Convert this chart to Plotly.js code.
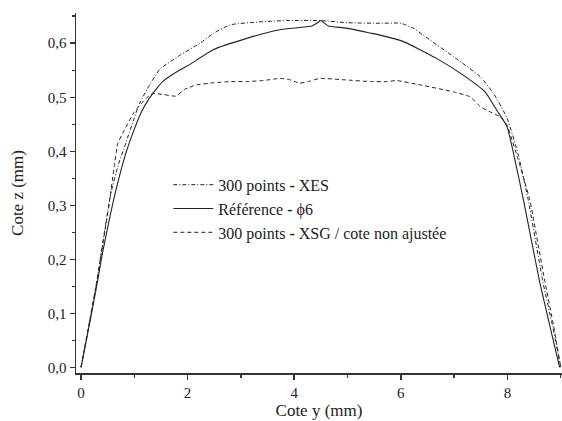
<!DOCTYPE html>
<html>
<head>
<meta charset="utf-8">
<script src="https://cdn.plot.ly/plotly-3.0.1.min.js"></script>
<style>html,body{margin:0;padding:0;background:#fff}#chart{width:562px;height:421px}</style>
</head>
<body>
<div id="chart"></div>
<script>
// Série "300 points - XES" (tiret-point)
const xesY = [0, 0.14, 0.28, 0.42, 0.56, 0.7, 0.84, 1.0, 1.1, 1.3, 1.48, 1.86, 2.23, 2.48, 2.8, 3.42, 3.86, 4.48, 5.0, 5.61, 6.0, 6.23, 6.42, 6.99, 7.49, 7.74, 7.99, 8.2, 8.39, 8.67, 8.85, 9.0];
const xesZ = [0, 0.072, 0.148, 0.238, 0.322, 0.375, 0.415, 0.462, 0.489, 0.525, 0.552, 0.578, 0.6, 0.618, 0.634, 0.64, 0.642, 0.642, 0.638, 0.637, 0.637, 0.628, 0.615, 0.575, 0.538, 0.507, 0.462, 0.395, 0.31, 0.156, 0.075, 0];

// Série "Référence - φ6" (trait plein)
const refY = [0, 0.1, 0.28, 0.4, 0.53, 0.64, 0.75, 0.86, 0.97, 1.12, 1.28, 1.53, 1.86, 2.03, 2.48, 3.11, 3.73, 4.33, 4.42, 4.5, 4.58, 4.64, 4.98, 5.42, 5.61, 6.05, 6.67, 7.17, 7.58, 7.8, 7.99, 8.15, 8.3, 8.45, 8.61, 8.8, 8.98];
const refZ = [0, 0.05, 0.143, 0.21, 0.273, 0.322, 0.365, 0.402, 0.433, 0.47, 0.498, 0.529, 0.551, 0.56, 0.588, 0.609, 0.625, 0.632, 0.637, 0.642, 0.636, 0.632, 0.628, 0.619, 0.615, 0.603, 0.572, 0.541, 0.51, 0.476, 0.446, 0.38, 0.31, 0.235, 0.156, 0.075, 0];

// Série "300 points - XSG / cote non ajustée" (tirets)
const xsgY = [0, 0.14, 0.28, 0.42, 0.53, 0.62, 0.69, 0.78, 1.0, 1.22, 1.34, 1.55, 1.78, 1.95, 2.17, 2.5, 2.8, 3.1, 3.42, 3.73, 3.9, 4.1, 4.3, 4.48, 4.98, 5.42, 5.74, 5.92, 6.36, 6.99, 7.3, 7.49, 7.61, 7.86, 7.99, 8.2, 8.42, 8.7, 8.87, 9.0];
const xsgZ = [0, 0.075, 0.15, 0.235, 0.304, 0.37, 0.415, 0.433, 0.473, 0.498, 0.507, 0.505, 0.502, 0.515, 0.523, 0.527, 0.529, 0.529, 0.531, 0.535, 0.533, 0.526, 0.53, 0.535, 0.532, 0.529, 0.529, 0.531, 0.523, 0.51, 0.501, 0.483, 0.476, 0.464, 0.449, 0.385, 0.31, 0.16, 0.075, 0];

const names = ["300 points <b>-</b> XES", "Référence <b>-</b> ϕ6", "300 points <b>-</b> XSG / cote non ajustée"];
const xTicks = [0, 2, 4, 6, 8];
const yTicks = [0.0, 0.1, 0.2, 0.3, 0.4, 0.5, 0.6];
const yTickText = ["0,0", "0,1", "0,2", "0,3", "0,4", "0,5", "0,6"];

const ink = "#222";
const traces = [
  {x: xesY, y: xesZ, name: names[0], mode: "lines", line: {color: ink, width: 1, dash: "4px,2px,1px,2px", shape: "spline", smoothing: 0.5}},
  {x: refY, y: refZ, name: names[1], mode: "lines", line: {color: ink, width: 1.1, shape: "spline", smoothing: 0.5}},
  {x: xsgY, y: xsgZ, name: names[2], mode: "lines", line: {color: ink, width: 1, dash: "4px,3px", shape: "spline", smoothing: 0.3}}
];

const fam = "Liberation Serif, Times New Roman, serif";
const layout = {
  width: 562, height: 421,
  margin: {l: 76, r: 0, t: 13, b: 48},
  paper_bgcolor: "#fff", plot_bgcolor: "#fff",
  font: {family: fam, size: 16, color: "#222"},
  showlegend: true,
  legend: {x: 0.19, y: 0.57, xanchor: "left", yanchor: "top", bgcolor: "rgba(0,0,0,0)",
           font: {family: fam, size: 16, color: "#222"}, itemwidth: 40, tracegroupgap: 0},
  xaxis: {
    range: [-0.094, 9.024], showgrid: false, zeroline: false,
    showline: true, linecolor: "#333", linewidth: 1.5,
    ticks: "outside", ticklen: 5, tickwidth: 1.5, tickcolor: "#333",
    tickvals: xTicks, ticktext: xTicks.map(String),
    tickfont: {family: fam, size: 15, color: "#222"},
    minor: {dtick: 1, ticks: "outside", ticklen: 3, tickwidth: 1.5, tickcolor: "#333"},
    title: {text: "Cote y (mm)", font: {family: fam, size: 17, color: "#222"}, standoff: 4}
  },
  yaxis: {
    range: [-0.0106, 0.656], showgrid: false, zeroline: false,
    showline: true, linecolor: "#333", linewidth: 1.5,
    ticks: "outside", ticklen: 5, tickwidth: 1.5, tickcolor: "#333",
    tickvals: yTicks, ticktext: yTickText,
    tickfont: {family: fam, size: 15, color: "#222"},
    minor: {dtick: 0.05, ticks: "outside", ticklen: 3, tickwidth: 1.5, tickcolor: "#333"},
    title: {text: "Cote z (mm)", font: {family: fam, size: 17, color: "#222"}, standoff: 20}
  }
};

Plotly.newPlot("chart", traces, layout, {displayModeBar: false, staticPlot: true});
</script>
</body>
</html>
